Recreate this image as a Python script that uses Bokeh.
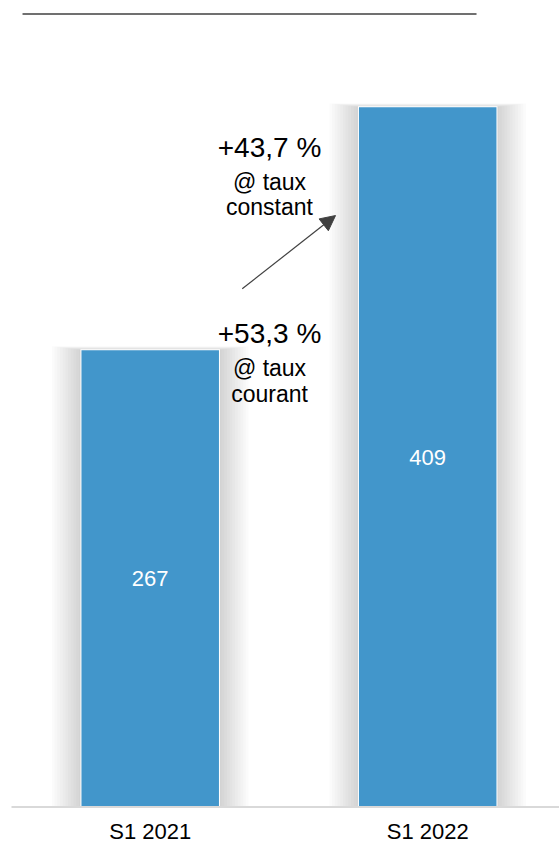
from bokeh.plotting import figure
from bokeh.models import Range1d, Arrow, NormalHead
from bokeh.core.properties import value
from bokeh.embed import file_html
from bokeh.resources import INLINE

# ---- data ----
categories = ["S1 2021", "S1 2022"]
values = [267, 409]
growth_constant = "+43,7 %"
growth_constant_sub = ["@ taux", "constant"]
growth_current = "+53,3 %"
growth_current_sub = ["@ taux", "courant"]

BAR_COLOR = "#4296CB"
FONT = value("Liberation Sans")

xs = list(range(len(categories)))

# pixel scales (px per data unit)
KX = 277.5
KY = 1.711
BAR_W = 137.5 / KX

p = figure(width=559, height=845, output_backend="svg", toolbar_location=None,
           x_range=Range1d(-0.5395, 1.4749), y_range=Range1d(-22.5, 471.4),
           x_axis_location=None, y_axis_location=None, min_border=0)
p.grid.visible = False
p.outline_line_color = None
p.background_fill_color = "white"
p.border_fill_color = "white"

# soft shadows around bars
n_layers = 11
for i in range(n_layers, 0, -1):
    d = 2.7 * i
    dt = 0.35 * i
    p.vbar(x=xs, width=[BAR_W + 2 * d / KX] * len(xs),
           top=[v + dt / KY for v in values], bottom=0,
           fill_color="black", fill_alpha=0.014, line_color=None)

# thin white gap around bars
p.vbar(x=xs, width=BAR_W + 2.0 / KX, top=[v + 1.0 / KY for v in values], bottom=0,
       fill_color="white", line_color=None)

# bars
p.vbar(x=xs, width=BAR_W, top=values, bottom=0,
       fill_color=BAR_COLOR, line_color=None)

# baseline
p.segment(x0=[-0.4999], y0=[0], x1=[1.4749], y1=[0], line_color="#d9d9d9", line_width=2)

# top rule
p.segment(x0=[-0.4601], y0=[463.5], x1=[1.1759], y1=[463.5], line_color="#404040", line_width=1.6)

# value labels inside bars
p.text(x=xs, y=[v / 2 for v in values], text=[str(v) for v in values],
       text_align="center", text_baseline="middle", text_font=FONT,
       text_font_size="22px", text_color="white")

# category labels
p.text(x=xs, y=[-14.6] * len(xs), text=categories,
       text_align="center", text_baseline="middle", text_font=FONT,
       text_font_size="22px", text_color="#000000")

# growth annotations
ax = 0.4299
p.text(x=[ax, ax], y=[385.4, 276.6], text=[growth_constant, growth_current],
       text_align="center", text_baseline="middle", text_font=FONT,
       text_font_size="28px", text_color="#000000")
p.text(x=[ax] * 4, y=[365.3, 350.7, 256.8, 241.2],
       text=growth_constant_sub + growth_current_sub,
       text_align="center", text_baseline="middle", text_font=FONT,
       text_font_size="23px", text_color="#000000")

# arrow
p.add_layout(Arrow(x_start=0.3316, y_start=302.9, x_end=0.6678, y_end=345.7,
                   line_color="#404040", line_width=1.2,
                   end=NormalHead(size=15, fill_color="#404040", line_color="#404040")))

open("out.html", "w").write(file_html(p, INLINE))
